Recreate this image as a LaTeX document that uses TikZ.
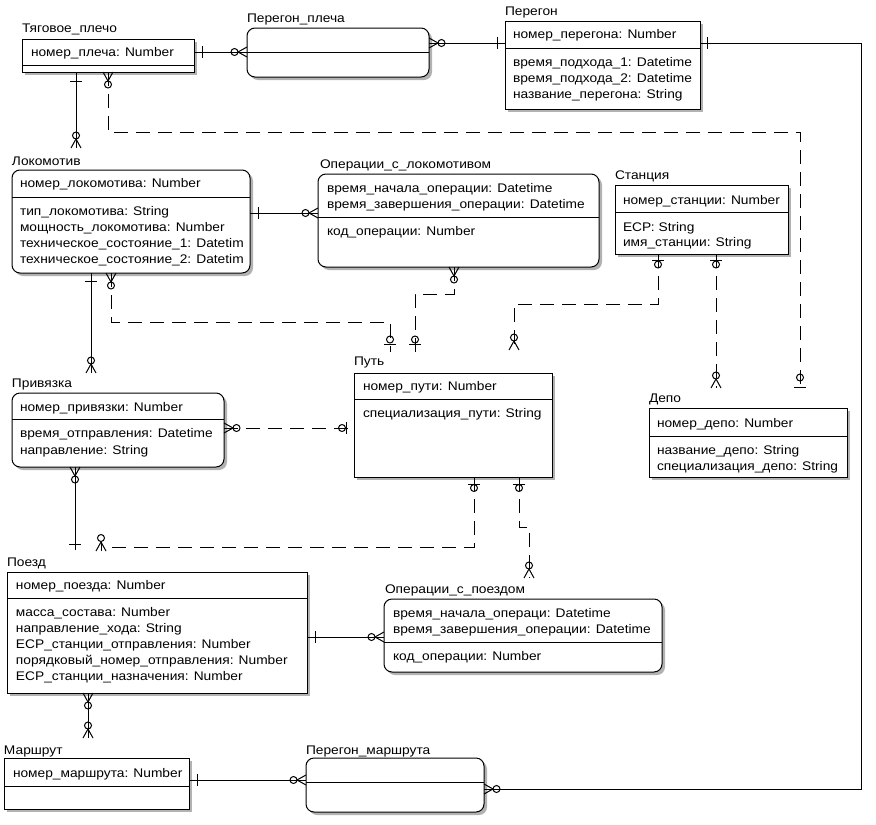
\documentclass[tikz,border=0pt]{standalone}
\usepackage{fontspec}
\setmainfont{Liberation Sans}[FakeStretch=1.1]
\newcommand\entity[7]{% name,x,y,w,h,divider y,corner radius
  \fill[shadowc, rounded corners=#7] (#2+3,#3+3) rectangle ++(#4,#5);
  \node[ebox, rounded corners=#7, minimum width=#4pt, minimum height=#5pt, anchor=north west] (#1) at (#2,#3) {};
  \draw[conn] (#2,#6) -- (#2+#4,#6);
}
\newcommand\txt[4]{\node[lbl] (#1) at (#2,#3) {#4};}
\newcommand\tkH[2]{\draw[sym] (#1-6,#2) -- (#1+6,#2);}
\newcommand\tkV[2]{\draw[sym] (#1,#2-6) -- (#1,#2+6);}
\newcommand\rng[2]{\draw[sym] (#1,#2) circle[radius=3.5pt];}
\newcommand\crw[3]{\draw[sym, shift={(#1,#2)}, rotate=#3] (0pt,5pt) -- (-9pt,0pt) -- (0pt,-5pt);}
\begin{document}
\begin{tikzpicture}[x=1pt,y=-1pt,
  shadowc/.style={fill=gray!60},
  ebox/.style={draw, fill=white, line width=1pt, inner sep=0pt, outer sep=0pt},
  lbl/.style={anchor=base west, inner sep=0pt, outer sep=0pt, font=\fontsize{12.5}{15}\selectfont},
  conn/.style={line width=1pt},
  dconn/.style={line width=1pt, dash pattern=on 14pt off 8pt},
  sym/.style={line width=1pt}]
\useasboundingbox (0,0) rectangle (876,825);
% ---------------- entities
\entity{tp}{22}{39}{172}{33}{65}{0pt}
\entity{pp}{247}{28}{182}{49}{52}{8pt}
\entity{pg}{505}{21}{195}{88}{48}{0pt}
\entity{lok}{12}{170}{238}{103}{197}{8pt}
\entity{ol}{318}{174}{281}{93}{217}{8pt}
\entity{st}{615}{185}{173}{69}{212}{0pt}
\entity{dp}{649}{408}{198}{69}{436}{0pt}
\entity{pr}{12}{393}{212}{74}{419}{8pt}
\entity{put}{354}{373}{198}{104}{399}{0pt}
\entity{pz}{7}{572}{300}{121}{598}{0pt}
\entity{op}{384}{599}{278}{73}{642}{8pt}
\entity{mr}{4}{758}{185}{51}{786}{0pt}
\entity{pm}{306}{758}{178}{54}{782}{8pt}
% ---------------- texts
\txt{tpl}{22}{32}{Тяговое\_плечо}
\txt{tpk}{31}{56}{номер\_плеча: Number}
\txt{ppl}{247}{22}{Перегон\_плеча}
\txt{pgl}{505}{15}{Перегон}
\txt{pgk}{513}{38.5}{номер\_перегона: Number}
\txt{pga}{513}{66}{время\_подхода\_1: Datetime}
\txt{pgb}{513}{82}{время\_подхода\_2: Datetime}
\txt{pgc}{513}{98}{название\_перегона: String}
\txt{lokl}{12}{165}{Локомотив}
\txt{lokk}{20}{187.5}{номер\_локомотива: Number}
\txt{loka}{20}{215.5}{тип\_локомотива: String}
\txt{lokb}{20}{231.5}{мощность\_локомотива: Number}
\txt{lokc}{20}{247}{техническое\_состояние\_1: Datetim}
\txt{lokd}{20}{263}{техническое\_состояние\_2: Datetim}
\txt{oll}{320}{168.5}{Операции\_с\_локомотивом}
\txt{olk}{327}{192.5}{время\_начала\_операции: Datetime}
\txt{olm}{327}{208}{время\_завершения\_операции: Datetime}
\txt{ola}{327}{235.5}{код\_операции: Number}
\txt{stl}{615}{179.5}{Станция}
\txt{stk}{623}{204}{номер\_станции: Number}
\txt{sta}{623}{231}{ЕСР: String}
\txt{stb}{623}{246.5}{имя\_станции: String}
\txt{dpl}{649}{402}{Депо}
\txt{dpk}{657}{427}{номер\_депо: Number}
\txt{dpa}{657}{454.5}{название\_депо: String}
\txt{dpb}{657}{470.5}{специализация\_депо: String}
\txt{prl}{12}{387.5}{Привязка}
\txt{prk}{20}{411}{номер\_привязки: Number}
\txt{pra}{20}{437.5}{время\_отправления: Datetime}
\txt{prb}{20}{454.5}{направление: String}
\txt{putl}{354}{365.5}{Путь}
\txt{putk}{363}{390}{номер\_пути: Number}
\txt{puta}{363}{417.5}{специализация\_пути: String}
\txt{pzl}{7}{566}{Поезд}
\txt{pzk}{16}{589.5}{номер\_поезда: Number}
\txt{pza}{16}{616.5}{масса\_состава: Number}
\txt{pzb}{16}{632.5}{направление\_хода: String}
\txt{pzc}{16}{648}{ЕСР\_станции\_отправления: Number}
\txt{pzd}{16}{664}{порядковый\_номер\_отправления: Number}
\txt{pze}{16}{680}{ЕСР\_станции\_назначения: Number}
\txt{opl}{385}{593.5}{Операции\_с\_поездом}
\txt{opk}{393}{617}{время\_начала\_операци: Datetime}
\txt{opm}{393}{633.5}{время\_завершения\_операции: Datetime}
\txt{opa}{393}{660.5}{код\_операции: Number}
\txt{mrl}{4}{754.5}{Маршрут}
\txt{mrk}{13}{777.5}{номер\_маршрута: Number}
\txt{pml}{306}{754.5}{Перегон\_маршрута}
% ---------------- helper coordinates
\foreach \c in {75,76,88,91,108,111,390,415,454,474,514,519,529,658,716,800,861}{\coordinate (x\c) at (\c,0);}
\foreach \r in {43,52,132,213,294,304,322,428,527,637,780,789}{\coordinate (y\r) at (0,\r);}
\coordinate (pzend) at (112,547);
% ---------------- connectors
\draw[conn] (tp.east |- y52) -- (pp.west |- y52);
\draw[conn] (pg.west |- y43) -- (pp.east |- y43);
\draw[conn] (pg.east |- y43) -| (x861 |- y789) -- (pm.east |- y789);
\draw[conn, shorten >=22pt] (tp.south -| x76) -- (lok.north -| x76);
\draw[dconn, shorten >=20pt] (tp.south -| x108) |- (x800 |- y132) -- (dp.north -| x800);
\draw[conn] (lok.east |- y213) -- (ol.west |- y213);
\draw[dconn, shorten >=21pt] (lok.south -| x111) |- (x390 |- y322) -- (put.north -| x390);
\draw[conn, shorten >=20pt] (lok.south -| x91) -- (pr.north -| x91);
\draw[dconn, shorten >=21pt] (ol.south -| x454) |- (x415 |- y294) -- (put.north -| x415);
\draw[dconn, shorten >=23pt] (st.south -| x658) |- (x514 |- y304) -- (put.north -| x514);
\draw[dconn, shorten >=20pt] (st.south -| x716) -- (dp.north -| x716);
\draw[dconn] (pr.east |- y428) -- (put.west |- y428);
\draw[conn, shorten >=22pt] (pr.south -| x75) -- (pz.north -| x75);
\draw[dconn] (put.south -| x474) |- (pzend);
\draw[dconn, shorten >=21pt] (put.south -| x519) |- (x529 |- y527) -- (op.north -| x529);
\draw[conn] (pz.east |- y637) -- (op.west |- y637);
\draw[conn, shorten >=20pt] (pz.south -| x88) -- (mr.north -| x88);
\draw[conn] (mr.east |- y780) -- (pm.west |- y780);
% ---------------- cardinality symbols
\tkV{202}{52} \rng{234.5}{52} \crw{247}{52}{0}
\tkV{497}{43} \crw{429}{43}{180} \rng{441.5}{43}
\tkV{707}{43} \crw{484}{789}{180} \rng{496.5}{789}
\tkH{76}{81} \rng{76}{135.5} \crw{76}{148}{-90}
\crw{108}{72}{90} \rng{108}{84.5} \rng{800}{377.5} \tkH{800}{387}
\tkV{258}{213} \rng{305.5}{213} \crw{318}{213}{0}
\crw{111}{273}{90} \rng{111}{285.5} \rng{390}{339.5} \tkH{390}{344}
\tkH{91}{281} \rng{91}{360.5} \crw{91}{373}{-90}
\crw{454}{267}{90} \rng{454}{279.5} \rng{415}{339.5} \tkH{415}{344}
\tkH{658}{260} \rng{658}{264.5} \rng{514}{337.5} \crw{514}{350}{-90}
\tkH{716}{260} \rng{716}{264.5} \rng{716}{375.5} \crw{716}{388}{-90}
\crw{224}{428}{180} \rng{236.5}{428} \rng{342}{428} \tkV{346}{428}
\crw{75}{467}{90} \rng{75}{479.5} \tkH{75}{544}
\tkH{474}{484} \rng{474}{488} \rng{101}{538} \crw{101}{551}{-90}
\draw[sym] (101,541.5) -- (101,551);
\tkH{519}{484} \rng{519}{488} \rng{529}{565.5} \crw{529}{578}{-90}
\tkV{315}{637} \rng{371.5}{637} \crw{384}{637}{0}
\crw{88}{693}{90} \rng{88}{705.5} \rng{88}{725.5} \crw{88}{738}{-90}
\tkV{197}{780} \rng{293.5}{780} \crw{306}{780}{0}
\end{tikzpicture}
\end{document}
